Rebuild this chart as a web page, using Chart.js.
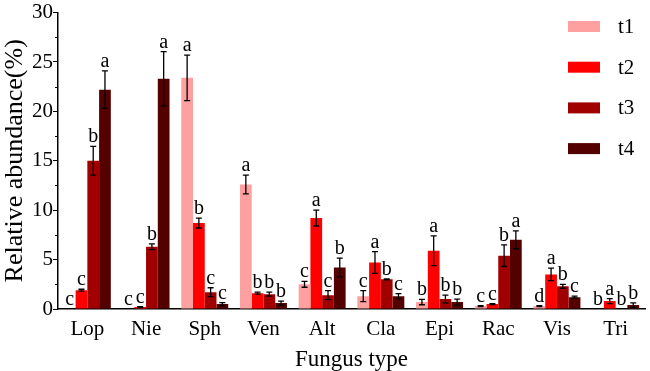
<!DOCTYPE html>
<html>
<head>
<meta charset="utf-8">
<script src="https://cdn.jsdelivr.net/npm/chart.js@4"></script>
<style>
  body { margin: 0; background: #fff; }
  canvas { display: block; }
</style>
</head>
<body>
<canvas id="grafico" width="650" height="371"></canvas>
<script>
const categorias = ['Lop', 'Nie', 'Sph', 'Ven', 'Alt', 'Cla', 'Epi', 'Rac', 'Vis', 'Tri'];
const series = ['t1', 't2', 't3', 't4'];
const cores = ['#ffa0a0', '#ff0000', '#a00000', '#550000'];

const t1 = [0, 0, 23.4, 12.6, 2.5, 1.3, 0.7, 0.3, 0.3, 0];
const t2 = [1.9, 0.2, 8.7, 1.6, 9.2, 4.7, 5.9, 0.5, 3.5, 0.8];
const t3 = [15.0, 6.3, 1.7, 1.5, 1.4, 3.0, 1.0, 5.4, 2.3, 0];
const t4 = [22.2, 23.3, 0.5, 0.6, 4.2, 1.3, 0.7, 7.0, 1.2, 0.4];

const erro1 = [0, 0, 2.3, 0.95, 0.3, 0.55, 0.27, 0.05, 0.05, 0];
const erro2 = [0.1, 0.05, 0.5, 0.1, 0.8, 1.1, 1.5, 0.05, 0.63, 0.25];
const erro3 = [1.45, 0.3, 0.45, 0.2, 0.45, 0.05, 0.4, 1.1, 0.2, 0];
const erro4 = [1.9, 2.75, 0.15, 0.2, 0.95, 0.25, 0.3, 0.9, 0.1, 0.23];

const letras1 = ['c', 'c', 'a', 'a', 'c', 'c', 'b', 'c', 'd', 'b'];
const letras2 = ['c', 'c', 'b', 'b', 'a', 'a', 'a', 'c', 'a', 'a'];
const letras3 = ['b', 'b', 'c', 'b', 'c', 'b', 'b', 'b', 'b', 'b'];
const letras4 = ['a', 'a', 'c', 'b', 'b', 'c', 'b', 'a', 'c', 'b'];

const yTicks = [0, 5, 10, 15, 20, 25, 30];

const valores = [t1, t2, t3, t4];
const erros = [erro1, erro2, erro3, erro4];
const letras = [letras1, letras2, letras3, letras4];

const fonte = '"Liberation Serif"';

// barras de erro, letras, ticks menores e legenda
const extras = {
  id: 'extras',
  afterDatasetsDraw(chart) {
    const ctx = chart.ctx;
    const y = chart.scales.y;
    ctx.save();
    chart.data.datasets.forEach((ds, i) => {
      const meta = chart.getDatasetMeta(i);
      meta.data.forEach((barra, j) => {
        const v = ds.data[j];
        const e = erros[i][j];
        const x = barra.x;
        let topo = y.getPixelForValue(v);
        if (e > 0) {
          const yAlto = y.getPixelForValue(v + e);
          const yBaixo = y.getPixelForValue(Math.max(v - e, 0));
          ctx.strokeStyle = '#000';
          ctx.lineWidth = 1.3;
          ctx.beginPath();
          ctx.moveTo(x, yAlto); ctx.lineTo(x, yBaixo);
          ctx.moveTo(x - 3, yAlto); ctx.lineTo(x + 3, yAlto);
          ctx.moveTo(x - 3, yBaixo); ctx.lineTo(x + 3, yBaixo);
          ctx.stroke();
          topo = yAlto;
        }
        ctx.fillStyle = '#000';
        ctx.font = '20px ' + fonte;
        ctx.textAlign = 'center';
        ctx.textBaseline = 'alphabetic';
        ctx.fillText(letras[i][j], x, topo - 4);
      });
    });

    // ticks menores no eixo y
    ctx.strokeStyle = '#000';
    ctx.lineWidth = 1;
    for (let v = 2.5; v < 30; v += 5) {
      const py = Math.round(y.getPixelForValue(v)) + 0.5;
      ctx.beginPath();
      ctx.moveTo(y.right - 3, py);
      ctx.lineTo(y.right, py);
      ctx.stroke();
    }

    // legenda
    chart.data.datasets.forEach((ds, i) => {
      const ly = 26.5 + i * 40.7;
      ctx.fillStyle = ds.backgroundColor;
      ctx.fillRect(568, ly - 5.5, 32, 11);
      ctx.fillStyle = '#000';
      ctx.font = '21px ' + fonte;
      ctx.textAlign = 'left';
      ctx.textBaseline = 'middle';
      ctx.fillText(ds.label, 618, ly + 1);
    });
    ctx.restore();
  }
};

function desenhar() {
  new Chart(document.getElementById('grafico'), {
    type: 'bar',
    data: {
      labels: categorias,
      datasets: series.map((nome, i) => ({
        label: nome,
        data: valores[i],
        backgroundColor: cores[i],
        borderWidth: 0,
        categoryPercentage: 0.8,
        barPercentage: 1.0
      }))
    },
    options: {
      responsive: false,
      animation: false,
      layout: { padding: { top: 8, right: 5, left: 0, bottom: 0 } },
      plugins: {
        legend: { display: false },
        tooltip: { enabled: false }
      },
      scales: {
        x: {
          grid: { display: false },
          border: { display: true, color: '#000', width: 1.5 },
          ticks: { color: '#000', font: { family: fonte, size: 21 }, padding: 0 },
          title: {
            display: true,
            text: 'Fungus type',
            color: '#000',
            font: { family: fonte, size: 23, lineHeight: 1.0 },
            padding: { top: 8, bottom: 0 }
          },
          afterFit(scale) { scale.height = 62; }
        },
        y: {
          min: 0,
          max: 30,
          afterBuildTicks(scale) { scale.ticks = yTicks.map(v => ({ value: v })); },
          grid: { display: true, drawOnChartArea: false, tickLength: 5, color: '#000', lineWidth: 1 },
          border: { display: true, color: '#000', width: 1.5 },
          ticks: { color: '#000', font: { family: fonte, size: 21 }, padding: 0 },
          title: {
            display: true,
            text: 'Relative abundance(%)',
            color: '#000',
            font: { family: fonte, size: 26 },
            padding: { top: 0, bottom: 1 }
          },
          afterFit(scale) { scale.width = 58; }
        }
      }
    },
    plugins: [extras]
  });
}

document.fonts.load('20px "Liberation Serif"').then(desenhar, desenhar);
</script>
</body>
</html>
